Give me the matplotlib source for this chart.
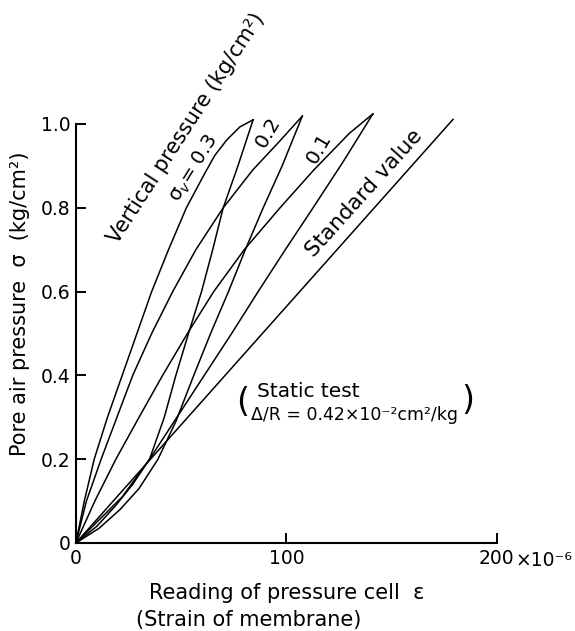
import matplotlib
matplotlib.use("Agg")
import matplotlib.pyplot as plt

# ---- data (strain x1e-6, pore air pressure kg/cm2) ----
s03_up_x = [0, 4, 8.7, 15, 22, 29, 36, 44, 52.5, 61, 66, 71.7, 77.9, 84.2]
s03_up_y = [0, 0.1, 0.2, 0.3, 0.4, 0.5, 0.6, 0.7, 0.8, 0.88, 0.925, 0.962, 0.993, 1.01]
s03_lo_x = [0, 10, 19, 27, 35, 42, 47.5, 53.5, 59.7, 65, 70, 77, 84.2]
s03_lo_y = [0, 0.04, 0.09, 0.14, 0.2, 0.3, 0.4, 0.5, 0.6, 0.7, 0.8, 0.9, 1.01]

s02_up_x = [0, 5, 12, 19.5, 27, 36, 46, 57, 70, 84, 97, 107.6]
s02_up_y = [0, 0.1, 0.2, 0.3, 0.4, 0.5, 0.6, 0.7, 0.8, 0.89, 0.96, 1.019]
s02_lo_x = [0, 11, 21, 30, 39, 47.5, 56, 64, 72.5, 80.5, 89, 98, 107.6]
s02_lo_y = [0, 0.035, 0.08, 0.13, 0.2, 0.29, 0.4, 0.5, 0.6, 0.7, 0.8, 0.9, 1.019]

s01_up_x = [0, 9, 19, 30, 41.2, 53, 65.5, 80, 97, 113, 130, 141.1]
s01_up_y = [0, 0.1, 0.2, 0.3, 0.4, 0.5, 0.6, 0.7, 0.8, 0.89, 0.978, 1.024]
s01_lo_x = [0, 12, 22, 35, 48, 61, 74, 86.6, 99.5, 112.7, 127, 141.1]
s01_lo_y = [0, 0.06, 0.11, 0.2, 0.3, 0.4, 0.5, 0.6, 0.7, 0.8, 0.91, 1.024]

std_x = [0, 179.2]
std_y = [0, 1.011]

xticks = [0, 100, 200]
xticklabels = ["0", "100", "200"]
yticks = [0, 0.2, 0.4, 0.6, 0.8, 1.0]
yticklabels = ["0", "0.2", "0.4", "0.6", "0.8", "1.0"]

fig = plt.figure(figsize=(5.75, 6.31), dpi=100)
ax = fig.add_axes([0.132, 0.1395, 0.732, 0.664])

lw = 1.1
for xs, ys in [(s03_up_x, s03_up_y), (s03_lo_x, s03_lo_y),
               (s02_up_x, s02_up_y), (s02_lo_x, s02_lo_y),
               (s01_up_x, s01_up_y), (s01_lo_x, s01_lo_y),
               (std_x, std_y)]:
    ax.plot(xs, ys, color="black", lw=lw, clip_on=False, solid_joinstyle="round")

ax.set_xlim(0, 200)
ax.set_ylim(0, 1.0)
for sp in ["top", "right"]:
    ax.spines[sp].set_visible(False)
for sp in ["left", "bottom"]:
    ax.spines[sp].set_linewidth(1.5)

ax.set_xticks(xticks)
ax.set_xticklabels(xticklabels)
ax.set_yticks(yticks)
ax.set_yticklabels(yticklabels)
ax.tick_params(direction="in", length=7, width=1.4, pad=4, labelsize=13.5)

ax.text(209, -0.042, "×10⁻⁶", fontsize=13.5, ha="left", va="center", clip_on=False)

ax.set_ylabel("Pore air pressure  σ  (kg/cm²)", fontsize=15)
ax.yaxis.set_label_coords(-0.11, 0.57)

ax.text(100, -0.12, "Reading of pressure cell  ε", fontsize=15, ha="center", va="center", clip_on=False)
ax.text(82, -0.183, "(Strain of membrane)", fontsize=15, ha="center", va="center", clip_on=False)

ax.text(52.3, 0.99, "Vertical pressure (kg/cm²)", fontsize=15, rotation=57,
        ha="center", va="center", rotation_mode="anchor", clip_on=False)
ax.text(56.0, 0.893, "σ$_v$= 0.3", fontsize=14, rotation=58,
        ha="center", va="center", rotation_mode="anchor", clip_on=False)
ax.text(91.2, 0.981, "0.2", fontsize=14.5, rotation=60,
        ha="center", va="center", rotation_mode="anchor", clip_on=False)
ax.text(115.4, 0.943, "0.1", fontsize=14.5, rotation=60,
        ha="center", va="center", rotation_mode="anchor", clip_on=False)
ax.text(137.0, 0.835, "Standard value", fontsize=15.5, rotation=48,
        ha="center", va="center", rotation_mode="anchor")

ax.text(79, 0.335, "(", fontsize=24, ha="center", va="center")
ax.text(86, 0.362, "Static test", fontsize=14.5, ha="left", va="center")
ax.text(83.0, 0.305, "Δ/R = 0.42×10⁻²cm²/kg", fontsize=12.5, ha="left", va="center")
ax.text(186, 0.34, ")", fontsize=24, ha="center", va="center")

fig.savefig("out.png", dpi=100)
